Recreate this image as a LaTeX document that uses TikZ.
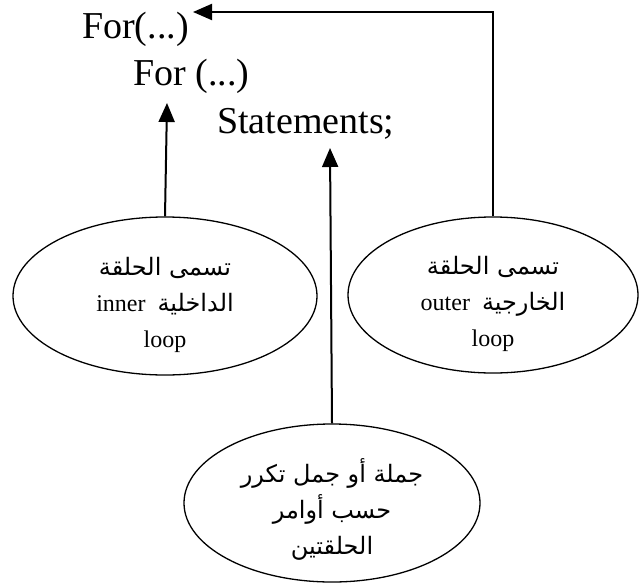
\documentclass[tikz,border=0pt]{standalone}
\usepackage{fontspec}
\setmainfont{Liberation Serif}
\newfontfamily\arabicfont[Script=Arabic]{DejaVu Sans}
\TeXXeTstate=1
\usepackage{tikz}
\usetikzlibrary{shapes}
\usetikzlibrary{arrows.meta}
\tikzstyle{Code}=[inner sep=0pt,font=\fontsize{38}{44}\selectfont]
\tikzstyle{Bubble}=[ellipse,draw,line width=1.3pt,inner sep=0pt,
font=\fontsize{24}{36}\selectfont]
\tikzstyle{Edge}=[draw,line width=2pt,
-{Triangle[length=19pt,width=16pt]}]
\newcommand{\Ar}[1]{{\arabicfont\beginR #1\endR}}
\newcommand{\Lines}[1]{\raisebox{-15pt}[0pt][0pt]{%
    \begin{tabular}{@{}c@{}}#1\end{tabular}}}

\begin{document}
\begin{tikzpicture}[x=1pt,y=-1pt]
            \useasboundingbox(0,0)rectangle(644,583);
            \node[Code,anchor=base west](for1)at(82,39){For(...)};
            \node[Code,anchor=base west](for2)at(133,86){For (...)};
            \node[Code,anchor=base west](stmt)at(217,133){Statements;};
            \node[Bubble,minimum width=304,minimum height=158](inner)
                at(165,296){\Lines{\Ar{تسمى الحلقة}\\
                inner\enspace\Ar{الداخلية}\\ loop}};
            \node[Bubble,minimum width=290,minimum height=156](outer)
                at(493,295){\Lines{\Ar{تسمى الحلقة}\\
                outer\enspace\Ar{الخارجية}\\ loop}};
            \node[Bubble,minimum width=296,minimum height=158](body)
                at(332,503){\Lines{\Ar{جملة أو جمل تكرر}\\
                \Ar{حسب أوامر}\\ \Ar{الحلقتين}}};
            \coordinate(t1)at(193,12);
            \coordinate(t2)at(167,103);
            \coordinate(t3)at(330,148);
            \draw[Edge](outer.north)|-(t1);
            \draw[Edge](inner.north)--(t2);
            \draw[Edge](body.north)--(t3);
        \end{tikzpicture}
\end{document}
